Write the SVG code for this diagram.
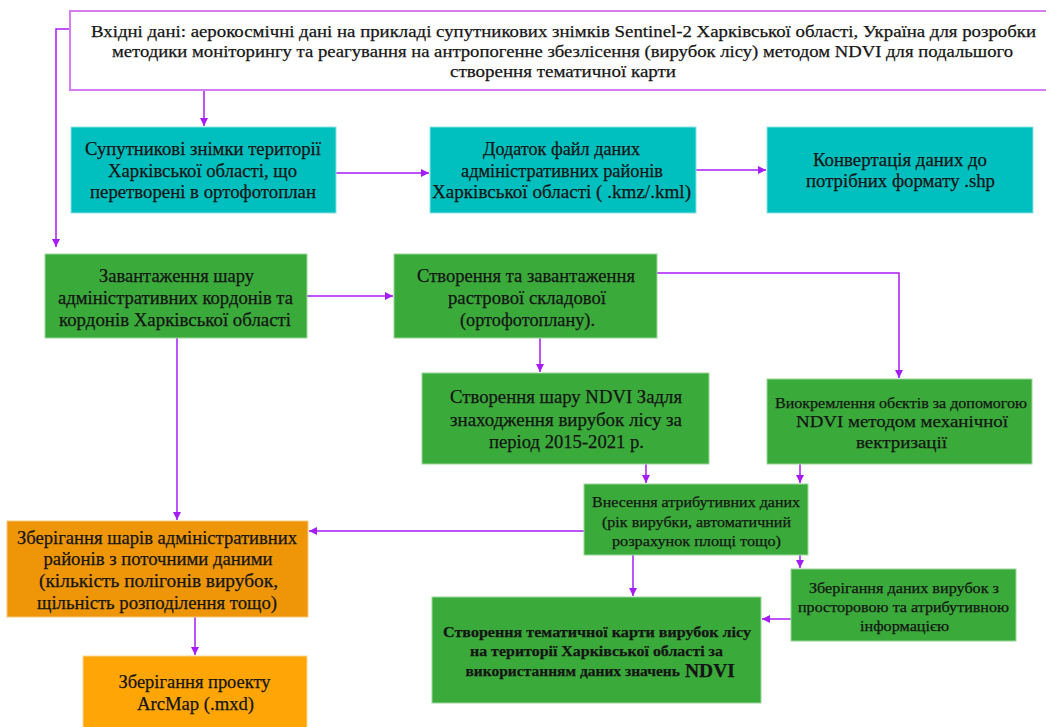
<svg xmlns="http://www.w3.org/2000/svg" width="1046" height="727" viewBox="0 0 1046 727" font-family="'Liberation Serif', 'Times New Roman', serif">
<style>
text{font-family:"Liberation Serif","Times New Roman",serif;fill:#151515;stroke:#151515;stroke-width:0.25;text-anchor:middle}
.f17{font-size:18.5px}
.f16{font-size:17.5px}
.f14{font-size:15px}
.jb{font-size:15.5px;font-weight:bold}
.b{font-weight:bold}
.teal{fill:#00BFBF;stroke:#8FE3E3;stroke-width:1}
.green{fill:#3AAA3A;stroke:#9AD89A;stroke-width:1}
.orange{fill:#EE9508;stroke:#F8C880;stroke-width:1}
.orange2{fill:#FFA505;stroke:#FFD890;stroke-width:1}
.top{fill:#fff;stroke:#D57EF2;stroke-width:2}
.con{fill:none;stroke:#A61CF5;stroke-width:1.5}
</style>
<defs>
<marker id="ah" markerUnits="userSpaceOnUse" markerWidth="9" markerHeight="9" refX="8" refY="4" orient="auto">
<path d="M0,0 L8,4 L0,8 z" fill="#A61CF5"/>
</marker>
</defs>

<g id="connectors">
<path class="con" d="M70,29 H56 V247" marker-end="url(#ah)"/>
<path class="con" d="M204,90 V126" marker-end="url(#ah)"/>
<path class="con" d="M336,173 H429" marker-end="url(#ah)"/>
<path class="con" d="M696,170 H766" marker-end="url(#ah)"/>
<path class="con" d="M307,296 H393" marker-end="url(#ah)"/>
<path class="con" d="M657,273 H899 V378" marker-end="url(#ah)"/>
<path class="con" d="M540,338 V372" marker-end="url(#ah)"/>
<path class="con" d="M177,338 V520" marker-end="url(#ah)"/>
<path class="con" d="M646,464 V483" marker-end="url(#ah)"/>
<path class="con" d="M800,464 V483" marker-end="url(#ah)"/>
<path class="con" d="M584,531 H309" marker-end="url(#ah)"/>
<path class="con" d="M633,555 V596" marker-end="url(#ah)"/>
<path class="con" d="M800,555 V568" marker-end="url(#ah)"/>
<path class="con" d="M791,619 H762" marker-end="url(#ah)"/>
<path class="con" d="M195,617 V655" marker-end="url(#ah)"/>
</g>

<g id="input">
<rect class="top" x="70" y="11" width="990" height="79"/>
<text class="f16" x="563.5" y="37" textLength="945" lengthAdjust="spacingAndGlyphs">Вхідні дані: аерокосмічні дані на прикладі супутникових знімків Sentinel-2 Харківської області, Україна для розробки</text>
<text class="f16" x="562.5" y="57" textLength="901" lengthAdjust="spacingAndGlyphs">методики моніторингу та реагування на антропогенне збезлісення (вирубок лісу) методом NDVI для подальшого</text>
<text class="f16" x="563" y="77" textLength="226" lengthAdjust="spacingAndGlyphs">створення тематичної карти</text>
</g>

<g id="sat">
<rect class="teal" x="71" y="127" width="265" height="86"/>
<text class="f17" x="203" y="155" textLength="236" lengthAdjust="spacingAndGlyphs">Супутникові знімки території</text>
<text class="f17" x="202.5" y="177" textLength="189" lengthAdjust="spacingAndGlyphs">Харківської області, що</text>
<text class="f17" x="203" y="198" textLength="226" lengthAdjust="spacingAndGlyphs">перетворені в ортофотоплан</text>
</g>

<g id="kml">
<rect class="teal" x="430" y="127" width="266" height="86"/>
<text class="f17" x="561.5" y="155" textLength="157" lengthAdjust="spacingAndGlyphs">Додаток файл даних</text>
<text class="f17" x="562" y="177" textLength="202" lengthAdjust="spacingAndGlyphs">адміністративних районів</text>
<text class="f17" x="561.5" y="198" textLength="259" lengthAdjust="spacingAndGlyphs">Харківської області ( .kmz/.kml)</text>
</g>

<g id="convert">
<rect class="teal" x="767" y="127" width="266" height="86"/>
<text class="f17" x="900" y="166" textLength="174" lengthAdjust="spacingAndGlyphs">Конвертація даних до</text>
<text class="f17" x="900.5" y="187" textLength="189" lengthAdjust="spacingAndGlyphs">потрібних формату .shp</text>
</g>

<g id="load">
<rect class="green" x="45" y="254" width="262" height="84"/>
<text class="f17" x="176.5" y="282" textLength="155" lengthAdjust="spacingAndGlyphs">Завантаження шару</text>
<text class="f17" x="175.5" y="304" textLength="235" lengthAdjust="spacingAndGlyphs">адміністративних кордонів та</text>
<text class="f17" x="175" y="326" textLength="232" lengthAdjust="spacingAndGlyphs">кордонів Харківської області</text>
</g>

<g id="raster">
<rect class="green" x="394" y="254" width="263" height="84"/>
<text class="f17" x="526" y="282" textLength="218" lengthAdjust="spacingAndGlyphs">Створення та завантаження</text>
<text class="f17" x="527" y="304" textLength="158" lengthAdjust="spacingAndGlyphs">растрової складової</text>
<text class="f17" x="527.5" y="326" textLength="135" lengthAdjust="spacingAndGlyphs">(ортофотоплану).</text>
</g>

<g id="ndvi">
<rect class="green" x="422" y="373" width="287" height="91"/>
<text class="f17" x="566" y="403" textLength="232" lengthAdjust="spacingAndGlyphs">Створення шару NDVI Задля</text>
<text class="f17" x="566" y="426" textLength="232" lengthAdjust="spacingAndGlyphs">знаходження вирубок лісу за</text>
<text class="f17" x="566.5" y="448" textLength="155" lengthAdjust="spacingAndGlyphs">період 2015-2021 р.</text>
</g>

<g id="extract">
<rect class="green" x="767" y="379" width="265" height="85"/>
<text class="f14" x="901" y="407.5" textLength="252" lengthAdjust="spacingAndGlyphs">Виокремлення обєктів за допомогою</text>
<text class="f16" x="902" y="427" textLength="212" lengthAdjust="spacingAndGlyphs">NDVI методом механічної</text>
<text class="f16" x="901.5" y="448" textLength="91" lengthAdjust="spacingAndGlyphs">вектризації</text>
</g>

<g id="attr">
<rect class="green" x="584" y="484" width="224" height="71"/>
<text class="f14" x="696" y="507" textLength="208" lengthAdjust="spacingAndGlyphs">Внесення атрибутивних даних</text>
<text class="f14" x="696.5" y="527" textLength="189" lengthAdjust="spacingAndGlyphs">(рік вирубки, автоматичний</text>
<text class="f14" x="696.5" y="546" textLength="169" lengthAdjust="spacingAndGlyphs">розрахунок площі тощо)</text>
</g>

<g id="store-data">
<rect class="green" x="791" y="569" width="225" height="72"/>
<text class="f14" x="904" y="593" textLength="190" lengthAdjust="spacingAndGlyphs">Зберігання даних вирубок з</text>
<text class="f14" x="903.5" y="612" textLength="211" lengthAdjust="spacingAndGlyphs">просторовою та атрибутивною</text>
<text class="f14" x="904.5" y="631" textLength="89" lengthAdjust="spacingAndGlyphs">інформацією</text>
</g>

<g id="map">
<rect class="green" x="432" y="597" width="329" height="106"/>
<text class="jb" x="597" y="637" textLength="308" lengthAdjust="spacingAndGlyphs">Створення тематичної карти вирубок лісу</text>
<text class="jb" x="596.5" y="656" textLength="253" lengthAdjust="spacingAndGlyphs">на території Харківської області за</text>
<text class="b"><tspan class="jb" x="680" y="676" style="text-anchor:end">використанням даних значень</tspan><tspan x="685" y="676.5" style="text-anchor:start;font-size:19.5px">NDVI</tspan></text>
</g>

<g id="store-layers">
<rect class="orange" x="7" y="521" width="301" height="96"/>
<text class="f17" x="157" y="543.5" textLength="280" lengthAdjust="spacingAndGlyphs">Зберігання шарів адміністративних</text>
<text class="f17" x="158" y="565" textLength="229" lengthAdjust="spacingAndGlyphs">районів з поточними даними</text>
<text class="f17" x="158.5" y="587" textLength="239" lengthAdjust="spacingAndGlyphs">(кількість полігонів вирубок,</text>
<text class="f17" x="157" y="609" textLength="240" lengthAdjust="spacingAndGlyphs">щільність розподілення тощо)</text>
</g>

<g id="project">
<rect class="orange2" x="83" y="656" width="224" height="80"/>
<text class="f17" x="194.5" y="688" textLength="152" lengthAdjust="spacingAndGlyphs">Зберігання проекту</text>
<text class="f17" x="195.5" y="710" textLength="117" lengthAdjust="spacingAndGlyphs">ArcMap (.mxd)</text>
</g>
</svg>
